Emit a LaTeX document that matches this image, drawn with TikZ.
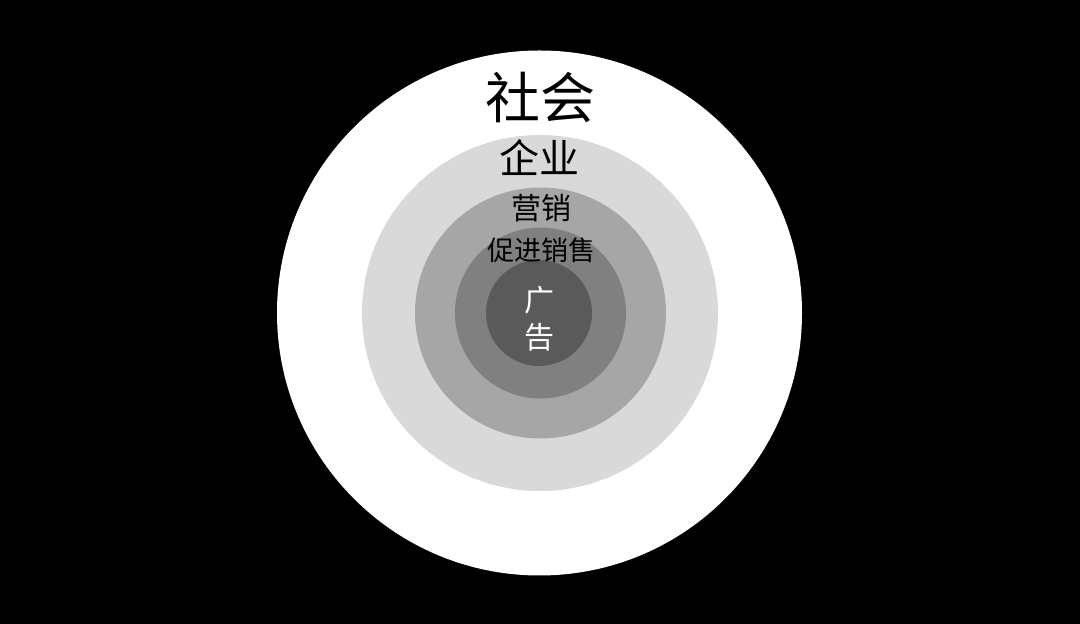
\documentclass[tikz,border=0pt]{standalone}
\usepackage{fontspec}
\newfontfamily\cjk{Noto Sans CJK SC}
\begin{document}
\begin{tikzpicture}[x=1pt,y=1pt,
  ring/.style={circle,inner sep=0pt,draw=none},
  lbl/.style={font=\cjk,inner sep=0pt,anchor=center}]
\fill[black] (0,0) rectangle (1080,624);
\useasboundingbox (0,0) rectangle (1080,624);
\node[ring,fill=white,minimum size=525pt] (c1) at (539.5,311) {};
\node[ring,fill={rgb,255:red,217;green,217;blue,217},minimum size=356pt] (c2) at (540,311) {};
\node[ring,fill={rgb,255:red,166;green,166;blue,166},minimum size=251pt] (c3) at (540.5,311) {};
\node[ring,fill={rgb,255:red,128;green,128;blue,128},minimum size=171pt] (c4) at (540.5,311) {};
\node[ring,fill={rgb,255:red,90;green,90;blue,90},minimum size=106pt] (c5) at (539,311) {};
\node[lbl,font=\cjk\fontsize{55}{55}\selectfont] (t1) at (540,527) {社会};
\node[lbl,font=\cjk\fontsize{40}{40}\selectfont] (t2) at (539,466) {企业};
\node[lbl,font=\cjk\fontsize{30}{30}\selectfont] (t3) at (541,416) {营销};
\node[lbl,font=\cjk\fontsize{27}{27}\selectfont] (t4) at (541,374) {促进销售};
\node[lbl,font=\cjk\fontsize{30}{30}\selectfont,text=white] (t5) at (539,324) {广};
\node[lbl,font=\cjk\fontsize{30}{30}\selectfont,text=white] (t6) at (539,287) {告};
\end{tikzpicture}
\end{document}
